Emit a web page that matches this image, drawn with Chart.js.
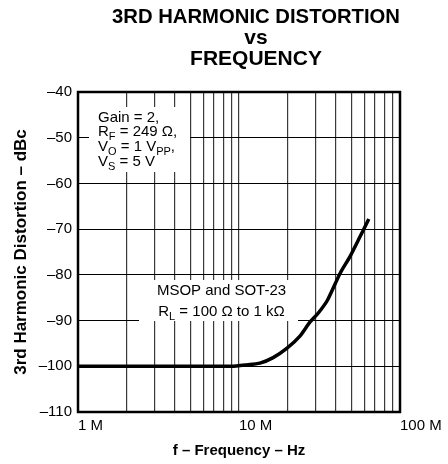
<!DOCTYPE html>
<html>
<head>
<meta charset="utf-8">
<script src="https://cdn.jsdelivr.net/npm/chart.js@4.4.1/dist/chart.umd.min.js"></script>
<style>
  html, body { margin: 0; padding: 0; background: #fff; }
</style>
</head>
<body>
<canvas id="chart" width="448" height="464"></canvas>
<script>
// curve (Hz, dBc)
const freqHz = [1e6, 3e6, 6e6, 9e6, 11e6, 13.5e6, 16.3e6, 19.8e6, 23.9e6, 27.5e6, 31e6, 35.5e6, 42.4e6, 48.9e6, 56e6, 64e6];
const distortionDbc = [-100, -100, -100, -100, -99.7, -99.3, -98.1, -96.1, -93.4, -90.4, -88.4, -85.5, -79.7, -76, -71.9, -67.8];

const freqTicks = [1e6, 2e6, 3e6, 4e6, 5e6, 6e6, 7e6, 8e6, 9e6,
                   1e7, 2e7, 3e7, 4e7, 5e7, 6e7, 7e7, 8e7, 9e7, 1e8];
const freqTickLabels = { 1e6: '1 M', 1e7: '10 M', 1e8: '100 M' };
const dbcTicks = [-110, -100, -90, -80, -70, -60, -50, -40];

const FONT = "'Liberation Sans', Arial, Helvetica, sans-serif";
Chart.defaults.font.family = FONT;
Chart.defaults.color = '#000';

function drawRich(ctx, x, y, parts, align) {
    const segs = parts.map(p => {
        ctx.font = (p.sub ? 11 : 15) + 'px ' + FONT;
        return { t: p.t, sub: p.sub, w: ctx.measureText(p.t).width };
    });
    const total = segs.reduce((s, p) => s + p.w, 0);
    let cx = align === 'center' ? x - total / 2 : x;
    segs.forEach(p => {
        ctx.font = (p.sub ? 11 : 15) + 'px ' + FONT;
        ctx.fillText(p.t, cx, p.sub ? y + 4 : y);
        cx += p.w;
    });
}

const notes = {
    id: 'notes',
    afterLayout(chart) {
        // title sits right of canvas centre in the original
        chart.titleBlock.left = 112;
    },
    beforeDatasetsDraw(chart) {
        const { ctx, chartArea: a } = chart;
        ctx.save();
        ctx.fillStyle = '#fff';
        ctx.fillRect(a.left + 11, a.top + 15, 101, 65);
        ctx.fillRect(a.left + 61, a.top + 188, 159, 41);
        ctx.fillStyle = '#000';
        ctx.textAlign = 'left';
        ctx.textBaseline = 'alphabetic';
        const x1 = a.left + 20;
        drawRich(ctx, x1, a.top + 30, [{ t: 'Gain = 2,' }]);
        drawRich(ctx, x1, a.top + 44, [{ t: 'R' }, { t: 'F', sub: true }, { t: ' = 249 \u03A9,' }]);
        drawRich(ctx, x1, a.top + 59, [{ t: 'V' }, { t: 'O', sub: true }, { t: ' = 1 V' }, { t: 'PP', sub: true }, { t: ',' }]);
        drawRich(ctx, x1, a.top + 74, [{ t: 'V' }, { t: 'S', sub: true }, { t: ' = 5 V' }]);
        const x2 = a.left + 143.5;
        drawRich(ctx, x2, a.top + 203, [{ t: 'MSOP and SOT-23' }], 'center');
        drawRich(ctx, x2, a.top + 224, [{ t: 'R' }, { t: 'L', sub: true }, { t: ' = 100 \u03A9 to 1 k\u03A9' }], 'center');
        ctx.restore();
    },
    afterDatasetsDraw(chart) {
        const { ctx, chartArea: a } = chart;
        ctx.save();
        ctx.strokeStyle = '#000';
        ctx.lineWidth = 2.5;
        ctx.strokeRect(a.left, a.top, a.right - a.left, a.bottom - a.top);
        ctx.restore();
    }
};

new Chart(document.getElementById('chart').getContext('2d'), {
    type: 'line',
    data: {
        datasets: [{
            data: freqHz.map((f, i) => ({ x: f, y: distortionDbc[i] })),
            borderColor: '#000',
            borderWidth: 3.5,
            pointRadius: 0,
            tension: 0.2,
            fill: false
        }]
    },
    options: {
        responsive: false,
        animation: false,
        layout: { padding: { left: 0, right: 48, top: 0, bottom: 0 } },
        plugins: {
            legend: { display: false },
            tooltip: { enabled: false },
            title: {
                display: true,
                text: ['3RD HARMONIC DISTORTION', 'vs', 'FREQUENCY'],
                color: '#000',
                font: { size: 21, weight: 'bold', lineHeight: 1.0 },
                padding: { top: 7, bottom: 22 }
            }
        },
        scales: {
            x: {
                type: 'logarithmic',
                min: 1e6,
                max: 1e8,
                afterBuildTicks: s => { s.ticks = freqTicks.map(v => ({ value: v })); },
                afterFit: s => { s.height = 52; },
                border: { display: false },
                grid: { color: '#3a3a3a', lineWidth: 1.2, drawTicks: false },
                ticks: {
                    autoSkip: false,
                    maxRotation: 0,
                    align: 'start',
                    padding: 5,
                    font: { size: 15 },
                    callback: v => freqTickLabels[v] || ''
                },
                title: {
                    display: true,
                    text: 'f \u2013 Frequency \u2013 Hz',
                    font: { size: 15, weight: 'bold' },
                    padding: { top: 0, bottom: 4 }
                }
            },
            y: {
                min: -110,
                max: -40,
                afterBuildTicks: s => { s.ticks = dbcTicks.map(v => ({ value: v })); },
                afterFit: s => { s.width = 78; },
                border: { display: false },
                grid: { color: '#000', lineWidth: 1, drawTicks: false },
                ticks: {
                    padding: 6,
                    font: { size: 15 },
                    callback: v => String(v).replace('-', '\u2013')
                },
                title: {
                    display: true,
                    text: '3rd Harmonic Distortion \u2013 dBc',
                    font: { size: 17, weight: 'bold' },
                    padding: { top: 11, bottom: 0 }
                }
            }
        }
    },
    plugins: [notes]
});
</script>
</body>
</html>
